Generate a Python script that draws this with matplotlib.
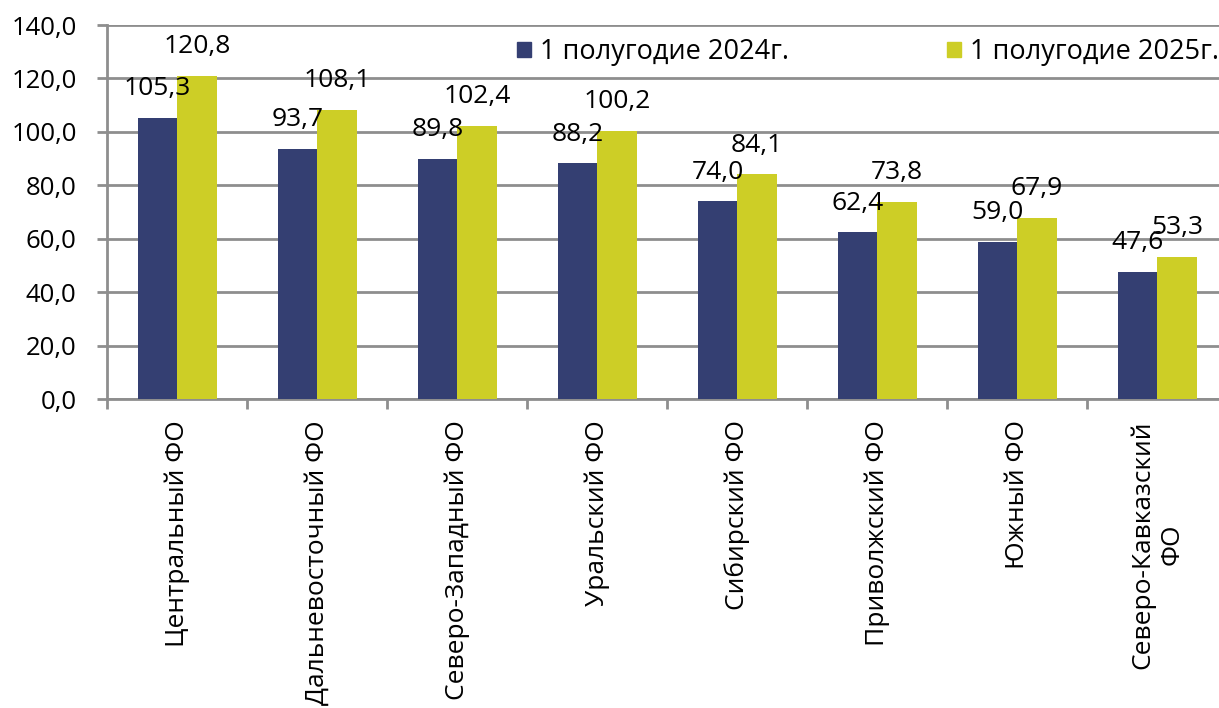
import matplotlib
matplotlib.use("Agg")
import matplotlib.pyplot as plt
import numpy as np
from matplotlib.patches import Patch

categories = ["Центральный ФО", "Дальневосточный ФО", "Северо-Западный ФО", "Уральский ФО",
              "Сибирский ФО", "Приволжский ФО", "Южный ФО", "Северо-Кавказский\nФО"]
series_names = ["1 полугодие 2024г.", "1 полугодие 2025г."]
values_2024 = [105.3, 93.7, 89.8, 88.2, 74.0, 62.4, 59.0, 47.6]
values_2025 = [120.8, 108.1, 102.4, 100.2, 84.1, 73.8, 67.9, 53.3]
y_ticks = [0, 20, 40, 60, 80, 100, 120, 140]

c1 = "#343F72"
c2 = "#CDCE26"
grid_c = "#8E8E8E"
FONT = ["Open Sans", "DejaVu Sans"]

plt.rcParams['font.family'] = FONT

fig = plt.figure(figsize=(12.19, 7.08), dpi=100)
ax = fig.add_axes([107.3/1219, (708-399.3)/708, 1120/1219, (399.3-25)/708])

x = np.arange(len(categories))
w = 0.282
ax.bar(x - w/2, values_2024, w, color=c1, zorder=3)
ax.bar(x + w/2, values_2025, w, color=c2, zorder=3)

def fmt(v):
    return f"{v:.1f}".replace(".", ",")

for xs, vals in ((x - w/2, values_2024), (x + w/2, values_2025)):
    for xi, v in zip(xs, vals):
        ax.annotate(fmt(v), (xi, v), xytext=(0, 16.5), textcoords="offset points",
                    ha="center", va="baseline", fontsize=19, color="black", zorder=5)

ax.set_xlim(-0.5, len(categories) - 0.5)
ax.set_ylim(0, 140)
ax.set_yticks(y_ticks)
ax.set_yticklabels([fmt(t) for t in y_ticks], fontsize=18.5)
ax.yaxis.grid(True, color=grid_c, linewidth=2, zorder=0)
ax.set_axisbelow(True)

ax.set_xticks(x)
ax.set_xticklabels(categories, rotation=90, fontsize=19, ha="center", va="top",
                   multialignment="center")
ax.set_xticks(np.arange(len(categories) + 1) - 0.5, minor=True)
ax.tick_params(axis="x", which="major", length=0, pad=15)
ax.tick_params(axis="x", which="minor", length=7, width=2, color=grid_c)
ax.tick_params(axis="y", length=7, width=2, color=grid_c, pad=15)

for s in ("top", "right"):
    ax.spines[s].set_visible(False)
for s in ("left", "bottom"):
    ax.spines[s].set_color(grid_c)
    ax.spines[s].set_linewidth(2)

handles = [Patch(color=c1), Patch(color=c2)]
fig.legend(handles, series_names, loc="center left", bbox_to_anchor=(517/1219, 1 - 52/708),
           ncol=2, frameon=False, fontsize=19.5, handlelength=0.5, handleheight=0.5,
           handletextpad=0.35, columnspacing=5.85, borderpad=0, borderaxespad=0)

fig.savefig("out.png", dpi=100)
